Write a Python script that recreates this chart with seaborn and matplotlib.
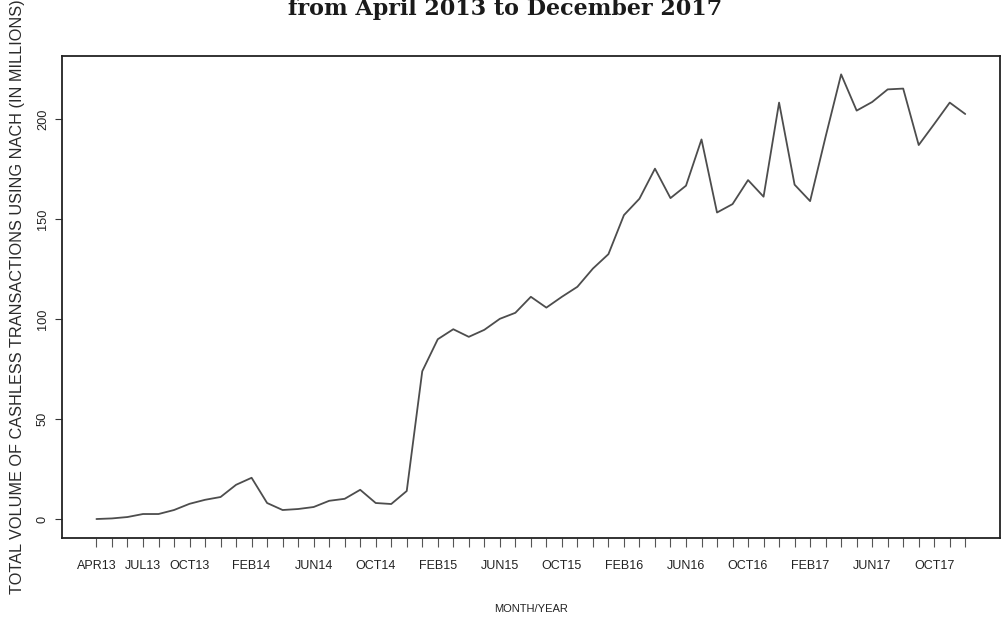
import matplotlib
matplotlib.use("Agg")
import matplotlib.pyplot as plt
import seaborn as sns
import pandas as pd
import numpy as np

# Monthly NACH volume, April 2013 .. December 2017 (millions of transactions)
months = [d.strftime("%b%y").upper() for d in pd.date_range("2013-04-01", "2017-12-01", freq="MS")]
volume = [
    0.2, 0.5, 1.2, 2.7, 2.7, 4.7, 7.8, 9.8, 11.2, 17.3, 20.8, 8.2,
    4.7, 5.2, 6.2, 9.3, 10.3, 14.8, 8.2, 7.7, 14.2, 74.0, 90.0, 95.0,
    91.2, 94.7, 100.2, 103.2, 111.2, 105.8, 111.2, 116.2, 125.3, 132.5,
    152.0, 160.2, 175.2, 160.5, 166.7, 189.8, 153.3, 157.5, 169.5, 161.2,
    208.2, 167.2, 159.0, 191.2, 222.3, 204.2, 208.5, 214.8, 215.2, 187.0,
    197.5, 208.2, 202.5,
]
shown_labels = ["APR13", "JUL13", "OCT13", "FEB14", "JUN14", "OCT14", "FEB15",
                "JUN15", "OCT15", "FEB16", "JUN16", "OCT16", "FEB17", "JUN17", "OCT17"]
y_ticks = [0, 50, 100, 150, 200]

df = pd.DataFrame({"idx": np.arange(len(months)), "month": months, "volume": volume})

sns.set_theme(style="white")
plt.rcParams["font.family"] = ["Liberation Sans", "DejaVu Sans"]

fig = plt.figure(figsize=(10.02, 6.17), dpi=100)
ax = fig.add_axes([61.7 / 1002, 1 - 537.7 / 617, (1000 - 61.7) / 1002, (537.7 - 55.7) / 617])

sns.lineplot(data=df, x="idx", y="volume", ax=ax, color="#4d4d4d", linewidth=1.3)

n = len(months)
pad = 0.04 * (n - 1)
ax.set_xlim(-pad, n - 1 + pad)
vr = max(volume) - min(volume)
ax.set_ylim(min(volume) - 0.042 * vr, max(volume) + 0.042 * vr)

ax.set_xticks(df["idx"])
ax.set_xticklabels([m if m in shown_labels else "" for m in months])
ax.set_yticks(y_ticks)
ax.set_yticklabels([str(t) for t in y_ticks], rotation=90, va="center")

ax.tick_params(axis="x", length=6.2, width=0.8, color="#555555", pad=10,
               labelsize=9.0, labelcolor="#222222", bottom=True)
ax.tick_params(axis="y", length=5.2, width=0.8, color="#333333", pad=4,
               labelsize=9.2, labelcolor="#222222", left=True)

for s in ax.spines.values():
    s.set_color("#222222")
    s.set_linewidth(1.3)

ax.set_xlabel("")
ax.set_ylabel("")

fig.text(18 / 1002, 1 - 297 / 617,
         "TOTAL VOLUME OF CASHLESS TRANSACTIONS USING NACH (IN MILLIONS)",
         rotation=90, ha="center", va="center", fontsize=11.7, color="#2a2a2a")
fig.text(531.5 / 1002, 1 - 609.5 / 617, "MONTH/YEAR",
         ha="center", va="center", fontsize=8.0, color="#222222")
fig.text(505 / 1002, 1 - 15 / 617, "from April 2013 to December 2017",
         ha="center", va="baseline", fontsize=16.0, fontweight="bold",
         family=["DejaVu Serif"], color="#1a1a1a")

fig.savefig("out.png", dpi=100)
